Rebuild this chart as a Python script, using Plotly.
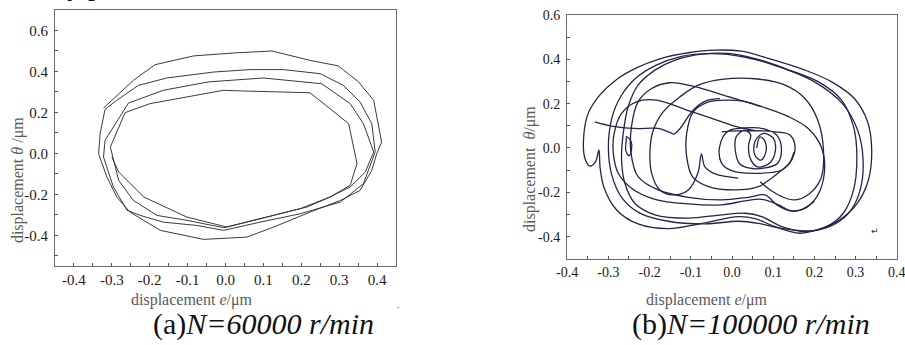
import plotly.graph_objects as go

# ---------------- (a) N=60000 r/min : displacement e vs theta (um) ----------------
a_e = [-0.322, -0.243, -0.186, -0.084, 0.021, 0.122, 0.223, 0.298, 0.351, 0.391, 0.412, 0.399, 0.386,
       0.355, 0.303, 0.223, 0.127, 0.056, -0.058, -0.172, -0.252, -0.287, -0.313, -0.335, -0.331, -0.318,
       -0.287, -0.230, -0.155, -0.032, 0.065, 0.153, 0.250, 0.311, 0.355, 0.386, 0.395, 0.364, 0.303,
       0.197, 0.091, -0.005, -0.076, -0.164, -0.225, -0.260, -0.296, -0.322, -0.318,
       -0.256, -0.164, -0.045, 0.100, 0.179, 0.254, 0.329, 0.364, 0.391, 0.369, 0.329, 0.276, 0.215,
       0.127, 0.039, -0.005, -0.102, -0.181, -0.243, -0.282, -0.304,
       -0.265, -0.199, -0.102, -0.005, 0.039, 0.223, 0.325, 0.347, 0.329, 0.276, 0.197, 0.109, 0.004,
       -0.102, -0.216, -0.282, -0.300]
a_theta = [0.221, 0.357, 0.433, 0.476, 0.490, 0.500, 0.454, 0.427, 0.349, 0.259, 0.055, -0.002, -0.083,
           -0.181, -0.230, -0.287, -0.360, -0.409, -0.420, -0.376, -0.287, -0.213, -0.116, -0.002, 0.096, 0.215,
           0.259, 0.332, 0.368, 0.397, 0.409, 0.409, 0.389, 0.332, 0.251, 0.145, 0.007, -0.148, -0.238,
           -0.295, -0.336, -0.376, -0.352, -0.336, -0.303, -0.278, -0.164, -0.018, 0.064,
           0.246, 0.308, 0.349, 0.368, 0.352, 0.340, 0.243, 0.145, 0.007, -0.091, -0.164, -0.213, -0.262,
           -0.303, -0.344, -0.363, -0.327, -0.303, -0.230, -0.132, 0.031,
           0.199, 0.243, 0.275, 0.308, 0.305, 0.296, 0.145, -0.050, -0.156, -0.213, -0.270, -0.311, -0.360,
           -0.311, -0.213, -0.091, -0.018]

# ---------------- (b) N=100000 r/min : several pieces of the orbit ----------------
b1_e = [0.165, 0.104, 0.056, 0.015, -0.057, -0.155, -0.228, -0.280, -0.310, -0.320, -0.323, -0.331, -0.345,
        -0.357, -0.360, -0.349, -0.321, -0.280, -0.232, -0.175, -0.106, -0.041, 0.023, 0.096, 0.177, 0.242,
        0.297, 0.329, 0.339, 0.331, 0.303, 0.258, 0.210, 0.165]
b1_theta = [-0.384, -0.354, -0.318, -0.309, -0.334, -0.363, -0.342, -0.279, -0.181, -0.091, -0.009, -0.061,
            -0.081, -0.046, 0.051, 0.156, 0.238, 0.309, 0.361, 0.402, 0.429, 0.441, 0.436, 0.399, 0.351, 0.298,
            0.223, 0.118, -0.009, -0.144, -0.252, -0.328, -0.366, -0.384]

b2_e = [0.181, 0.230, 0.270, 0.295, 0.303, 0.295, 0.266, 0.210, 0.129, 0.056, -0.009, -0.074, -0.138, -0.187,
        -0.228, -0.252, -0.264, -0.268, -0.260, -0.236, -0.187, -0.106, -0.025, 0.032, 0.072, 0.121, 0.181]
b2_theta = [-0.376, -0.354, -0.294, -0.189, -0.039, 0.096, 0.216, 0.298, 0.358, 0.403, 0.426, 0.423, 0.396,
            0.351, 0.283, 0.186, 0.066, -0.054, -0.159, -0.249, -0.301, -0.316, -0.301, -0.294, -0.309, -0.354,
            -0.376]

b10_e = [0.200, 0.250, 0.288, 0.312, 0.318, 0.305, 0.268, 0.200, 0.110, 0.030, -0.050, -0.125, -0.185, -0.235,
         -0.270, -0.292, -0.300, -0.292, -0.268, -0.225, -0.155, -0.065, 0.015, 0.065, 0.120, 0.200]
b10_theta = [-0.372, -0.342, -0.282, -0.182, -0.050, 0.080, 0.200, 0.298, 0.368, 0.410, 0.425, 0.412, 0.372,
             0.312, 0.232, 0.132, 0.000, -0.120, -0.222, -0.292, -0.330, -0.342, -0.330, -0.340, -0.362, -0.372]

b3_e = [0.080, 0.040, -0.025, -0.106, -0.179, -0.228, -0.245, -0.244, -0.228, -0.195, -0.151, -0.090, -0.009,
        0.072, 0.137, 0.185, 0.218, 0.224, 0.206, 0.173, 0.141, 0.109, 0.080]
b3_theta = [-0.211, -0.222, -0.234, -0.222, -0.189, -0.129, -0.024, 0.096, 0.208, 0.268, 0.294, 0.276, 0.231,
            0.186, 0.141, 0.088, -0.001, -0.114, -0.219, -0.276, -0.282, -0.256, -0.211]

b4_e = [0.015, -0.041, -0.066, -0.074, -0.083, -0.106, -0.143, -0.175, -0.195, -0.199, -0.191, -0.167, -0.126,
        -0.082, -0.025, 0.056, 0.129, 0.177, 0.208, 0.222, 0.216, 0.187, 0.153, 0.120, 0.092, 0.068]
b4_theta = [-0.136, -0.117, -0.084, -0.027, -0.114, -0.189, -0.211, -0.189, -0.114, -0.009, 0.081, 0.163,
            0.231, 0.283, 0.309, 0.312, 0.283, 0.223, 0.126, -0.009, -0.136, -0.207, -0.234, -0.218, -0.188,
            -0.152]

b5_e = [0.070, 0.030, -0.009, -0.057, -0.094, -0.110, -0.110, -0.096, -0.057, 0.007, 0.064, 0.096, 0.121,
        0.140, 0.150]
b5_theta = [0.188, 0.210, 0.216, 0.208, 0.163, 0.066, -0.039, -0.129, -0.174, -0.189, -0.174, -0.136, -0.099,
            -0.066, -0.020]

b6_e = [0.060, 0.068, 0.080, 0.082, 0.070, 0.055, 0.056, 0.075, 0.100, 0.105, 0.090, 0.062, 0.045, 0.040,
        0.045, 0.030, 0.010, 0.008, 0.018, 0.040, 0.080, 0.110, 0.120, 0.110, 0.080, 0.030, -0.010, -0.030,
        -0.025, -0.001, 0.056, 0.121, 0.145, 0.153, 0.141, 0.104, 0.040, -0.025]
b6_theta = [0.000, 0.050, 0.030, -0.020, -0.055, -0.030, 0.030, 0.065, 0.045, -0.015, -0.070, -0.085, -0.050,
            0.010, 0.060, 0.080, 0.050, -0.010, -0.070, -0.090, -0.090, -0.070, -0.010, 0.055, 0.085, 0.090,
            0.075, 0.006, -0.069, -0.102, -0.114, -0.099, -0.054, 0.006, 0.058, 0.073, 0.078, 0.073]

b7_e = [0.056, 0.011, -0.037, -0.110, -0.183, -0.232, -0.268, -0.286, -0.288, -0.276, -0.244, -0.187, -0.106,
        -0.025, 0.032, 0.072, 0.113, 0.141, 0.170, 0.200]
b7_theta = [0.078, 0.096, 0.126, 0.171, 0.216, 0.208, 0.156, 0.066, -0.024, -0.114, -0.181, -0.231, -0.252,
            -0.256, -0.238, -0.231, -0.256, -0.283, -0.276, -0.240]

b8_e = [-0.333, -0.292, -0.236, -0.179, -0.151, -0.141, -0.126, -0.094, -0.062, -0.029]
b8_theta = [0.118, 0.099, 0.088, 0.088, 0.070, 0.063, 0.088, 0.171, 0.213, 0.222]

b9_e = [-0.256, -0.245, -0.244, -0.250, -0.258, -0.257, -0.256]
b9_theta = [0.051, 0.030, -0.010, -0.035, -0.010, 0.030, 0.051]

x_ticks = [-0.4, -0.3, -0.2, -0.1, 0.0, 0.1, 0.2, 0.3, 0.4]
x_text = ["-0.4", "-0.3", "-0.2", "-0.1", "0.0", "0.1", "0.2", "0.3", "0.4"]
y_ticks = [-0.4, -0.2, 0.0, 0.2, 0.4, 0.6]
y_text = ["-0.4", "-0.2", "0.0", "0.2", "0.4", "0.6"]

SERIF = "Liberation Serif"

fig = go.Figure()
fig.add_trace(go.Scatter(x=a_e, y=a_theta, mode="lines", xaxis="x", yaxis="y",
                         line=dict(color="#3a3a3a", width=1), hoverinfo="skip"))
for ex, th in [(b1_e, b1_theta), (b2_e, b2_theta), (b10_e, b10_theta), (b3_e, b3_theta), (b4_e, b4_theta),
               (b5_e, b5_theta), (b6_e, b6_theta), (b7_e, b7_theta), (b8_e, b8_theta), (b9_e, b9_theta)]:
    fig.add_trace(go.Scatter(x=ex, y=th, mode="lines", xaxis="x2", yaxis="y2",
                             line=dict(color="#24244a", width=1.3, shape="spline", smoothing=1.0),
                             hoverinfo="skip"))

def axis(domain, rng, tv, tt, minor, size, anchor, standoff):
    return dict(domain=domain, range=rng, tickmode="array", tickvals=tv, ticktext=tt,
                ticks="inside", ticklen=3, tickwidth=1, tickcolor="#555",
                minor=dict(tickmode="linear", tick0=0, dtick=minor, ticks="inside", ticklen=3,
                           tickcolor="#555", tickwidth=1),
                showline=True, linecolor="#6a6a6a", linewidth=1, mirror=True,
                showgrid=False, zeroline=False, automargin=False, anchor=anchor,
                ticklabeloverflow="allow",
                tickfont=dict(family=SERIF, size=size, color="#1a1a1a"), ticklabelstandoff=standoff)

fig.update_layout(
    width=905, height=345, margin=dict(l=0, r=0, t=0, b=0, autoexpand=False),
    template="none", paper_bgcolor="white", plot_bgcolor="white", showlegend=False,
    font=dict(family=SERIF),
    xaxis=axis([0.0608, 0.4376], [-0.45, 0.45], x_ticks, x_text, 0.05, 15, "y", 0),
    yaxis=axis([0.2290, 0.9710], [-0.55, 0.70], y_ticks, y_text, 0.1, 15, "x", 3),
    xaxis2=axis([0.6265, 0.9912], [-0.4005, 0.4005], x_ticks, x_text, 0.05, 14, "y2", 0),
    yaxis2=axis([0.2493, 0.9574], [-0.5, 0.6005], y_ticks, y_text, 0.1, 14, "x2", 3),
)

gray = "#5a5a5a"
ann = [
    dict(x=0.2122, y=0.1304, text="displacement <i>e</i>/μm", font=dict(family=SERIF, size=16, color=gray)),
    dict(x=0.7812, y=0.1304, text="displacement <i>e</i>/μm", font=dict(family=SERIF, size=16, color=gray)),
    dict(x=0.0199, y=0.478, text="displacement <i>θ</i> /μm", textangle=-90,
         font=dict(family=SERIF, size=16, color=gray)),
    dict(x=0.5856, y=0.510, text="displacement  <i>θ</i>/μm", textangle=-90,
         font=dict(family=SERIF, size=16, color=gray)),
    dict(x=0.2917, y=1 - 324 / 345, text="(a)<i>N=60000 r/min</i>", font=dict(family=SERIF, size=30, color="#111")),
    dict(x=0.8298, y=1 - 324 / 345, text="(b)<i>N=100000 r/min</i>", font=dict(family=SERIF, size=30, color="#111")),
    dict(x=65 / 905, y=1 - 3 / 345, text="y p", xanchor="left", yanchor="bottom",
         font=dict(family=SERIF, size=28, color="#111")),
    dict(x=398 / 905, y=1 - 304 / 345, text=".", font=dict(family=SERIF, size=10, color="#333")),
]
for a in ann:
    a.setdefault("xanchor", "center")
    a.setdefault("yanchor", "middle")
    fig.add_annotation(xref="paper", yref="paper", showarrow=False, **a)
fig.add_annotation(xref="x2", yref="y2", x=0.347, y=-0.376, text="↵", showarrow=False,
                   font=dict(family="DejaVu Sans", size=9, color="#333"))

fig.write_html("out.html", config={"displayModeBar": False},
               post_script="document.body.style.margin='0';document.body.style.padding='0';")
